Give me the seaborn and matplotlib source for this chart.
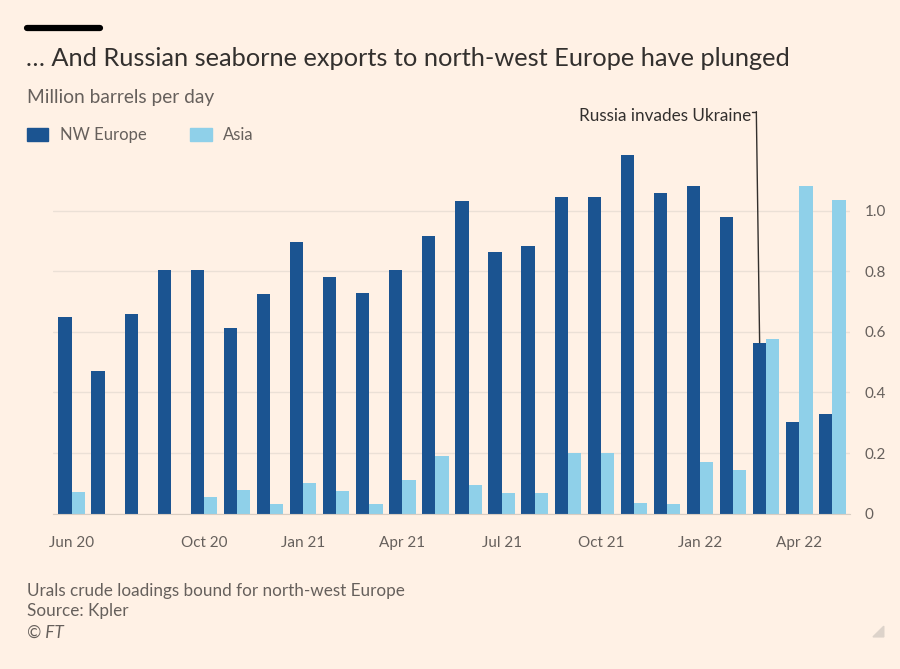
import matplotlib
matplotlib.use("Agg")
import matplotlib.pyplot as plt
import pandas as pd
import seaborn as sns

# Monthly Urals crude loadings, million barrels per day
months = ["Jun 20", "Jul 20", "Aug 20", "Sep 20", "Oct 20", "Nov 20", "Dec 20",
          "Jan 21", "Feb 21", "Mar 21", "Apr 21", "May 21", "Jun 21", "Jul 21",
          "Aug 21", "Sep 21", "Oct 21", "Nov 21", "Dec 21", "Jan 22", "Feb 22",
          "Mar 22", "Apr 22", "May 22"]
nw_europe = [0.65, 0.47, 0.66, 0.805, 0.805, 0.612, 0.724, 0.895, 0.781, 0.728,
             0.803, 0.915, 1.033, 0.864, 0.882, 1.046, 1.046, 1.182, 1.058,
             1.082, 0.978, 0.564, 0.302, 0.33]
asia = [0.072, 0.0, 0.0, 0.0, 0.057, 0.079, 0.032, 0.102, 0.074, 0.032,
        0.11, 0.19, 0.094, 0.068, 0.068, 0.202, 0.202, 0.035, 0.033, 0.172,
        0.145, 0.575, 1.082, 1.036]
tick_labels = ["Jun 20", "Oct 20", "Jan 21", "Apr 21", "Jul 21", "Oct 21", "Jan 22", "Apr 22"]
y_ticks = [0, 0.2, 0.4, 0.6, 0.8, 1.0]
y_tick_labels = ["0", "0.2", "0.4", "0.6", "0.8", "1.0"]
invasion_month = "Mar 22"

df = pd.DataFrame({
    "month": months * 2,
    "region": ["NW Europe"] * len(months) + ["Asia"] * len(months),
    "value": nw_europe + asia,
})

bg = "#fff1e5"
dark = "#1b5491"
light = "#8fd0e9"
text_dark = "#33302e"
text_grey = "#66605c"
grid_col = "#ebe0d6"

sns.set_style("white")
plt.rcParams["font.family"] = ["Lato", "DejaVu Sans"]

fig = plt.figure(figsize=(9, 6.69), dpi=100, facecolor=bg)
ax = fig.add_axes([0.059, 0.232, 0.885, 0.544])
ax.set_facecolor(bg)

sns.barplot(data=df, x="month", y="value", hue="region", order=months,
            hue_order=["NW Europe", "Asia"], palette=[dark, light],
            width=0.8, saturation=1, legend=False, linewidth=0,
            edgecolor="none", ax=ax)

ax.set_xlim(-0.56, 23.52)
ax.set_ylim(0, 1.2)
ax.set_xlabel("")
ax.set_ylabel("")

# y axis on the right
ax.yaxis.tick_right()
ax.set_yticks(y_ticks)
ax.set_yticklabels(y_tick_labels)
ax.tick_params(axis="y", length=0, pad=11, labelsize=11, labelcolor=text_grey)
ax.grid(axis="y", color=grid_col, linewidth=1)
ax.set_axisbelow(True)

# x ticks on every month, labels quarterly
ax.set_xticks(range(len(months)))
ax.set_xticklabels([m if m in tick_labels else "" for m in months])
ax.tick_params(axis="x", length=10, width=1, color="#d9cdc2", pad=6,
               labelsize=11, labelcolor=text_grey)

for s in ["top", "left", "right"]:
    ax.spines[s].set_visible(False)
ax.spines["bottom"].set_color("#d9cdc2")

# annotation
i = months.index(invasion_month)
x_bar = i - 0.2
ax.plot([x_bar - 0.1, x_bar], [1.326, nw_europe[i]], color=text_dark, lw=1, clip_on=False)
ax.plot([x_bar - 0.22, x_bar - 0.1], [1.326, 1.326], color=text_dark, lw=1, clip_on=False)
ax.text(x_bar - 0.26, 1.31, "Russia invades Ukraine", ha="right", va="center",
        fontsize=12.3, color=text_dark, clip_on=False)

# header
fig.add_artist(plt.Line2D([0.030, 0.111], [0.958, 0.958], color="black", lw=4.5))
fig.text(0.029, 0.913, "… And Russian seaborne exports to north-west Europe have plunged",
         fontsize=18.3, color=text_dark, va="center")
fig.text(0.030, 0.855, "Million barrels per day", fontsize=13.8, color=text_grey, va="center")

# legend
handles = [plt.Rectangle((0, 0), 1, 1, color=dark), plt.Rectangle((0, 0), 1, 1, color=light)]
fig.legend(handles, ["NW Europe", "Asia"], loc="center left",
           bbox_to_anchor=(0.013, 0.798), ncol=2, frameon=False,
           fontsize=12, labelcolor=text_grey, handlelength=1.3, handleheight=0.8,
           handletextpad=0.7, columnspacing=2.6)

# footer
fig.text(0.030, 0.117, "Urals crude loadings bound for north-west Europe",
         fontsize=12.3, color=text_grey, va="center")
fig.text(0.030, 0.086, "Source: Kpler", fontsize=12.3, color=text_grey, va="center")
fig.text(0.030, 0.054, "© FT", fontsize=12.3, color=text_grey, va="center", style="italic")

fig.add_artist(plt.Polygon([[0.982, 0.048], [0.982, 0.064], [0.970, 0.048]],
                           closed=True, color="#ddd3ca", transform=fig.transFigure))

fig.savefig("out.png", dpi=100, facecolor=bg)
